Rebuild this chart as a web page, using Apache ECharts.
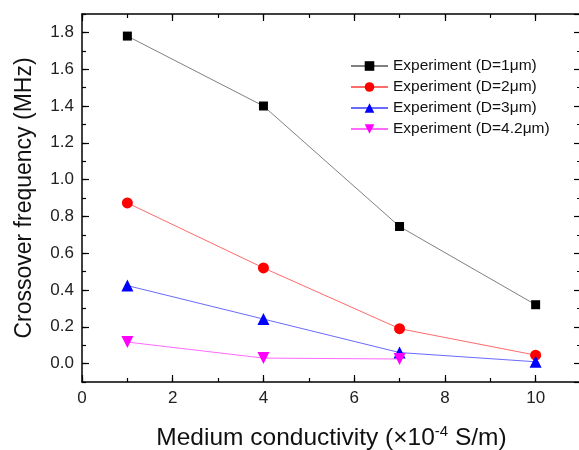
<!DOCTYPE html>
<html>
<head>
<meta charset="utf-8">
<script src="https://cdn.jsdelivr.net/npm/echarts@6/dist/echarts.min.js"></script>
<style>
html,body{margin:0;padding:0;background:#fff;}
#c{width:579px;height:450px;}
</style>
</head>
<body>
<div id="c"></div>
<script>
var xValues = [1, 4, 7, 10];
var seriesNames = ['Experiment (D=1\u03bcm)', 'Experiment (D=2\u03bcm)', 'Experiment (D=3\u03bcm)', 'Experiment (D=4.2\u03bcm)'];
var d1 = [1.78, 1.40, 0.745, 0.32];
var d2 = [0.873, 0.52, 0.19, 0.046];
var d3 = [0.424, 0.242, 0.06, 0.01];
var d4 = [0.117, 0.03, 0.025];

var FONT = 'Liberation Sans, Arial, sans-serif';
var chart = echarts.init(document.getElementById('c'));

function pairs(vals) {
  return vals.map(function (v, i) { return [xValues[i], v]; });
}

var axisLine = { show: true, onZero: false, lineStyle: { color: '#000', width: 1.5 } };
var noLine = { show: false, onZero: false };
var majorTick = { show: true, inside: true, length: 7, lineStyle: { color: '#000', width: 1.2 } };
var minorTick = { show: true, inside: true, length: 4, lineStyle: { color: '#000', width: 1.2 } };

var yMin = -0.1, yMax = 1.9;

var option = {
  animation: false,
  backgroundColor: '#fff',
  grid: { left: 82, top: 14, width: 499, height: 368, containLabel: false, outerBoundsMode: 'none' },
  legend: {
    left: 350, top: 58, orient: 'vertical', padding: 0,
    itemWidth: 37, itemHeight: 12, itemGap: 5,
    textStyle: { fontFamily: FONT, fontSize: 15.5, color: '#111' },
    data: seriesNames
  },
  xAxis: [
    {
      type: 'value', position: 'bottom', min: 0, max: 11, interval: 2,
      axisLine: axisLine, axisTick: majorTick,
      axisLabel: { fontFamily: FONT, fontSize: 17, color: '#222', margin: 8, showMaxLabel: false },
      splitLine: { show: false },
      name: '{a|Medium conductivity (\u00d710}{s|-4}{a| S/m)}',
      nameLocation: 'middle', nameGap: 42,
      nameTextStyle: {
        rich: {
          a: { fontFamily: FONT, fontSize: 24.5, color: '#111', lineHeight: 28 },
          s: { fontFamily: FONT, fontSize: 15, color: '#111', verticalAlign: 'top', lineHeight: 28, padding: [0, 0, 12, 0] }
        }
      }
    },
    {
      type: 'value', position: 'bottom', min: 0, max: 11, interval: 1,
      axisLine: noLine, axisTick: minorTick,
      axisLabel: { show: false }, splitLine: { show: false }
    },
    {
      type: 'value', position: 'top', min: 0, max: 11, interval: 2,
      axisLine: axisLine, axisTick: majorTick,
      axisLabel: { show: false }, splitLine: { show: false }
    },
    {
      type: 'value', position: 'top', min: 0, max: 11, interval: 1,
      axisLine: noLine, axisTick: minorTick,
      axisLabel: { show: false }, splitLine: { show: false }
    }
  ],
  yAxis: [
    {
      type: 'value', position: 'left', min: yMin, max: yMax, splitNumber: 10,
      axisLine: axisLine, axisTick: majorTick,
      axisLabel: {
        fontFamily: FONT, fontSize: 17, color: '#222', margin: 8,
        showMinLabel: false, showMaxLabel: false,
        formatter: function (v) { return (Math.round(v * 10) / 10).toFixed(1); }
      },
      splitLine: { show: false },
      name: 'Crossover frequency (MHz)',
      nameLocation: 'middle', nameGap: 46, nameRotate: 90,
      nameTextStyle: { fontFamily: FONT, fontSize: 23, color: '#111' }
    },
    {
      type: 'value', position: 'left', min: yMin, max: yMax, interval: 0.1,
      axisLine: noLine, axisTick: minorTick,
      axisLabel: { show: false }, splitLine: { show: false }
    },
    {
      type: 'value', position: 'right', min: yMin, max: yMax, splitNumber: 10,
      axisLine: axisLine, axisTick: majorTick,
      axisLabel: { show: false }, splitLine: { show: false }
    },
    {
      type: 'value', position: 'right', min: yMin, max: yMax, interval: 0.1,
      axisLine: noLine, axisTick: minorTick,
      axisLabel: { show: false }, splitLine: { show: false }
    }
  ],
  series: [
    {
      name: seriesNames[0], type: 'line', data: pairs(d1),
      symbol: 'rect', symbolSize: 9,
      itemStyle: { color: '#000' },
      lineStyle: { color: '#808080', width: 1 }
    },
    {
      name: seriesNames[1], type: 'line', data: pairs(d2),
      symbol: 'circle', symbolSize: 11,
      itemStyle: { color: '#ff0000' },
      lineStyle: { color: '#ff6a6a', width: 1 }
    },
    {
      name: seriesNames[2], type: 'line', data: pairs(d3),
      symbol: 'triangle', symbolSize: 12,
      itemStyle: { color: '#0000ff' },
      lineStyle: { color: '#6a6aff', width: 1 }
    },
    {
      name: seriesNames[3], type: 'line', data: pairs(d4),
      symbol: 'triangle', symbolRotate: 180, symbolSize: 12,
      itemStyle: { color: '#ff00ff' },
      lineStyle: { color: '#ff6aff', width: 1 }
    }
  ]
};
chart.setOption(option);
</script>
</body>
</html>
